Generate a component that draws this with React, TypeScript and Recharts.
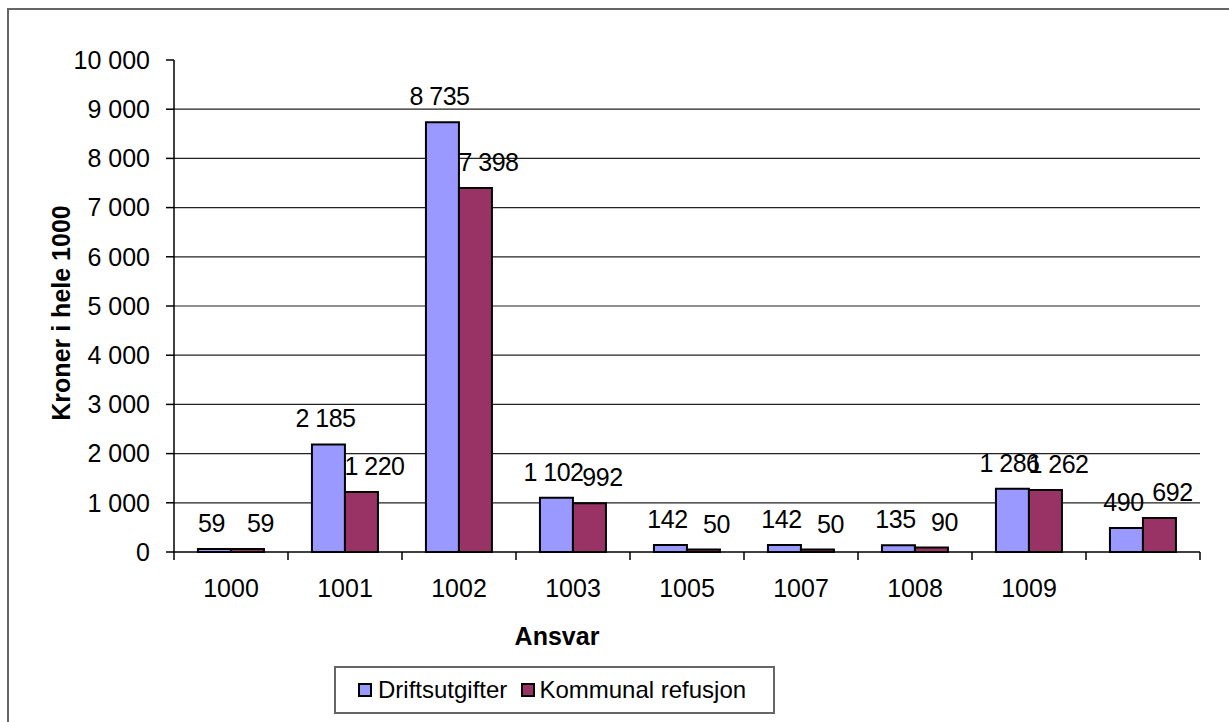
import React from "react";
import { BarChart, Bar, XAxis, YAxis, CartesianGrid, LabelList, Label } from "recharts";

// Ansvar (responsibility codes) and amounts in NOK 1000
const categories = ["1000", "1001", "1002", "1003", "1005", "1007", "1008", "1009", ""];
const driftsutgifter = [59, 2185, 8735, 1102, 142, 142, 135, 1286, 490];
const kommunalRefusjon = [59, 1220, 7398, 992, 50, 50, 90, 1262, 692];
const yTicks = [0, 1000, 2000, 3000, 4000, 5000, 6000, 7000, 8000, 9000, 10000];

const FONT = "'Liberation Sans', Arial, sans-serif";
const BLUE = "#9999FF";
const MAROON = "#993366";

const W = 1229;
const H = 722;
const PLOT_LEFT = 174;
const PLOT_RIGHT = 1200;
const PLOT_TOP = 60;
const PLOT_BOTTOM = 552;
const BAND = (PLOT_RIGHT - PLOT_LEFT) / categories.length;

// thousands separated by a space (non-breaking so labels never wrap)
const fmt = (v: number | string) =>
  String(v).replace(/\B(?=(\d{3})+(?!\d))/g, "\u00a0");

const data = categories.map((c, i) => ({
  ansvar: c,
  drift: driftsutgifter[i],
  refusjon: kommunalRefusjon[i],
}));

// x tick: boundary tick marks between categories + label
const CategoryTick = (props: any) => {
  const { x, payload, index } = props;
  const left = x - BAND / 2;
  return (
    <g>
      <line x1={left} y1={PLOT_BOTTOM} x2={left} y2={PLOT_BOTTOM + 8} stroke="#000" strokeWidth={1.5} />
      {index === categories.length - 1 && (
        <line x1={x + BAND / 2} y1={PLOT_BOTTOM} x2={x + BAND / 2} y2={PLOT_BOTTOM + 8} stroke="#000" strokeWidth={1.5} />
      )}
      <text x={x} y={597} textAnchor="middle" fontSize={25} fontFamily={FONT} fill="#000">
        {payload.value}
      </text>
    </g>
  );
};

// data label drawn as plain text above the bar (Excel nudges the pair apart a bit)
const BarValue = (props: any) => {
  const { x, y, width, value, shift } = props;
  return (
    <text
      x={x + width / 2 + (shift || 0)}
      y={y - 17}
      textAnchor="middle"
      fontSize={25}
      fontFamily={FONT}
      fill="#000"
      style={{ letterSpacing: "-0.5px" }}
    >
      {fmt(value)}
    </text>
  );
};

export default function App() {
  return (
    <div style={{ position: "absolute", left: 0, top: 0, width: W, height: H, background: "#fff", overflow: "hidden" }}>
      {/* outer frame */}
      <div
        style={{
          position: "absolute",
          left: 7,
          top: 8,
          width: W,
          height: H,
          borderLeft: "2px solid #666",
          borderTop: "2px solid #666",
        }}
      />
      <div style={{ position: "absolute", left: 0, top: 0 }}>
        <BarChart
          width={W}
          height={H}
          data={data}
          margin={{ top: PLOT_TOP, right: W - PLOT_RIGHT, bottom: 70, left: 74 }}
          barCategoryGap="21%"
          barGap={0}
        >
          <CartesianGrid
            vertical={false}
            horizontalValues={yTicks.filter((v) => v > 0 && v < 10000)}
            stroke="#222"
            strokeWidth={1.2}
          />
          <XAxis
            dataKey="ansvar"
            height={100}
            axisLine={{ stroke: "#000", strokeWidth: 1.5 }}
            tickLine={false}
            tick={<CategoryTick />}
            interval={0}
          >
            <Label
              content={({ viewBox }: any) => (
                <text
                  x={viewBox.x + viewBox.width / 2 - 130}
                  y={645}
                  textAnchor="middle"
                  fontSize={25}
                  fontWeight="bold"
                  fontFamily={FONT}
                  fill="#000"
                >
                  Ansvar
                </text>
              )}
            />
          </XAxis>
          <YAxis
            width={100}
            domain={[0, 10000]}
            ticks={yTicks}
            interval={0}
            tickFormatter={fmt}
            tickSize={8}
            tickMargin={16}
            axisLine={{ stroke: "#000", strokeWidth: 1.5 }}
            tickLine={{ stroke: "#000", strokeWidth: 1.5 }}
            tick={{ fontSize: 25, fontFamily: FONT, fill: "#000" }}
          >
            <Label
              content={() => (
                <text
                  transform="translate(61, 313) rotate(-90)"
                  textAnchor="middle"
                  dominantBaseline="central"
                  fontSize={25}
                  fontWeight="bold"
                  fontFamily={FONT}
                  fill="#000"
                >
                  Kroner i hele 1000
                </text>
              )}
            />
          </YAxis>
          <Bar dataKey="drift" name="Driftsutgifter" fill={BLUE} stroke="#000" strokeWidth={2} isAnimationActive={false}>
            <LabelList dataKey="drift" content={<BarValue shift={-3} />} />
          </Bar>
          <Bar dataKey="refusjon" name="Kommunal refusjon" fill={MAROON} stroke="#000" strokeWidth={2} isAnimationActive={false}>
            <LabelList dataKey="refusjon" content={<BarValue shift={13} />} />
          </Bar>
        </BarChart>
      </div>
      {/* legend */}
      <div
        style={{
          position: "absolute",
          left: 334,
          top: 666,
          width: 441,
          height: 48,
          boxSizing: "border-box",
          border: "2px solid #666",
          background: "#fff",
          display: "flex",
          alignItems: "center",
          fontFamily: FONT,
          fontSize: 24,
          color: "#000",
        }}
      >
        {[
          { label: "Driftsutgifter", color: BLUE, ml: 22, gap: 6 },
          { label: "Kommunal refusjon", color: MAROON, ml: 14, gap: 4 },
        ].map((item) => (
          <div key={item.label} style={{ display: "flex", alignItems: "center", marginLeft: item.ml }}>
            <span
              style={{
                display: "inline-block",
                width: 14,
                height: 14,
                boxSizing: "border-box",
                border: "2px solid #000",
                background: item.color,
                marginRight: item.gap,
              }}
            />
            <span>{item.label}</span>
          </div>
        ))}
      </div>
    </div>
  );
}
